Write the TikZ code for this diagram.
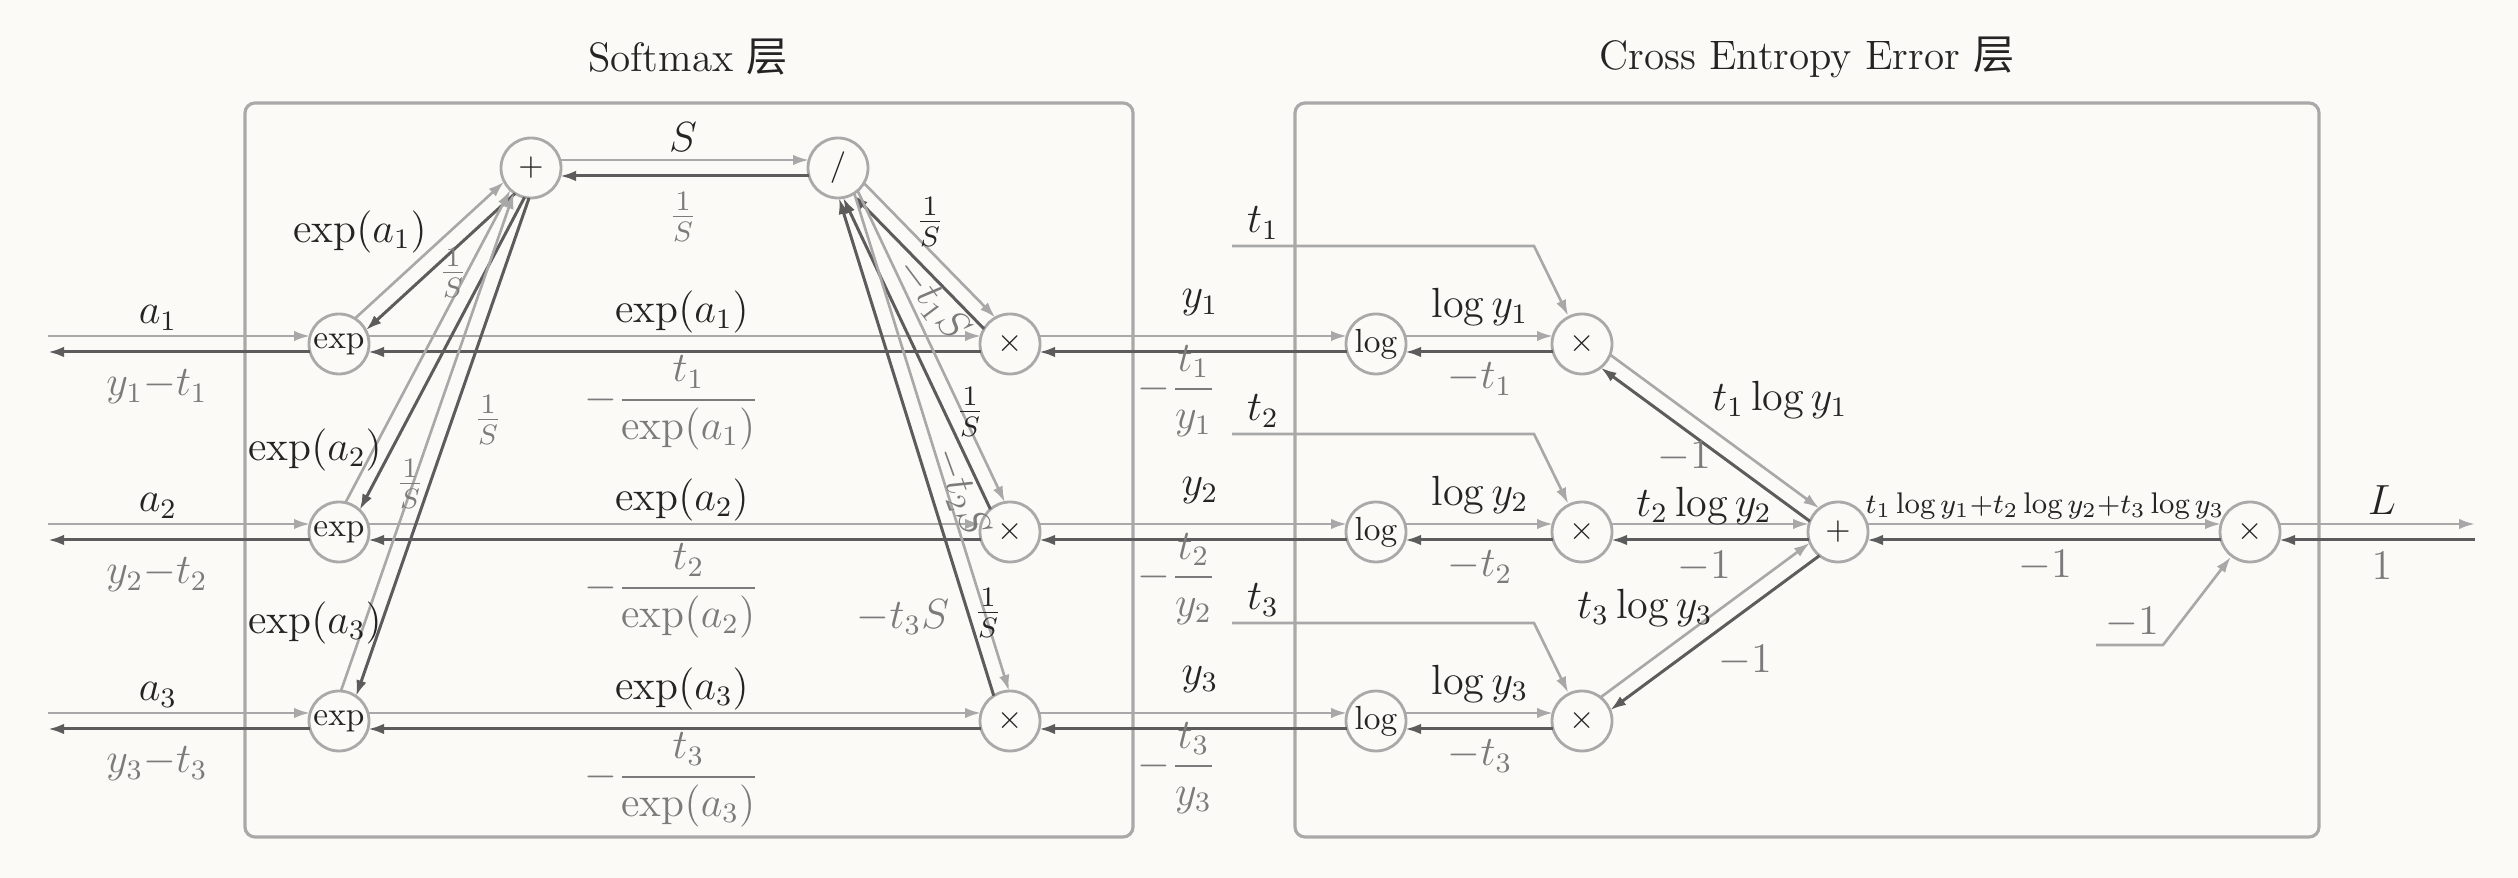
\documentclass[tikz,border=0pt]{standalone}
\usepackage{amsmath}
\usepackage{fontspec}
\newfontfamily\cjkfont{Noto Sans CJK SC}
\usetikzlibrary{arrows.meta,calc,positioning}
\definecolor{paperBg}{HTML}{FBFAF6}
\definecolor{rimGray}{HTML}{A9A9A9}
\definecolor{fwdGray}{HTML}{A8A8A8}
\definecolor{bwdGray}{HTML}{5C5C5C}
\definecolor{labGray}{HTML}{7B7B7B}
\definecolor{inkDark}{HTML}{242424}
\newcommand{\lnGap}{0.8mm}
\newcommand{\nodeRim}{2.9mm}
% forward line #1->#2 on one side, backward line #2->#1 on the other
\newcommand{\pairline}[4]{%
  \draw[fwd,shorten <=#3,shorten >=#4] ($(#1)!\lnGap!90:(#2)$) -- ($(#2)!\lnGap!-90:(#1)$);
  \draw[bwd,shorten <=#4,shorten >=#3] ($(#2)!\lnGap!90:(#1)$) -- ($(#1)!\lnGap!-90:(#2)$);}

\begin{document}
\begin{tikzpicture}[x=0.1mm,y=-0.1mm,
  op/.style={circle,draw=rimGray,line width=0.8pt,minimum size=6mm,inner sep=0pt,
    text=inkDark,font=\fontsize{9.5}{11}\selectfont},
  fwd/.style={draw=fwdGray,line width=0.75pt,-{Latex[length=1.6mm,width=1.05mm]}},
  bwd/.style={draw=bwdGray,line width=0.85pt,-{Latex[length=1.6mm,width=1.05mm]}},
  flab/.style={text=inkDark,font=\fontsize{12}{14}\selectfont,inner sep=0pt},
  blab/.style={text=labGray,font=\fontsize{12}{14}\selectfont,inner sep=0pt},
  layerbox/.style={draw=rimGray,line width=0.9pt,rounded corners=1mm},
  title/.style={text=inkDark,font=\fontsize{11.7}{14}\selectfont}]
  \fill[paperBg] (0,0) rectangle (2518,878);
  \useasboundingbox (0,0) rectangle (2518,878);

  % layers
  \draw[layerbox] (245,103) rectangle (1133,837);
  \draw[layerbox] (1295,103) rectangle (2319,837);
  \node[title] (tsm) at (688,57) {Softmax {\cjkfont 层}};
  \node[title] (tce) at (1807,57) {Cross Entropy Error {\cjkfont 层}};

  % operation nodes
  \node[op] (plusS) at (531,168) {$+$};
  \node[op] (divS) at (838,168) {$/$};
  \node[op] (plusC) at (1838,532) {$+$};
  \node[op] (mL) at (2250,532) {$\times$};
  \coordinate (out) at (2475,532);
  \coordinate (ma) at (2096,645);
  \coordinate (mb) at (2163,645);
  \foreach \i/\y in {1/344,2/532,3/721}{
    \node[op] (e\i) at (339,\y) {exp};
    \node[op] (ms\i) at (1010,\y) {$\times$};
    \node[op] (lg\i) at (1376,\y) {log};
    \node[op] (mc\i) at (1582,\y) {$\times$};
    \coordinate (in\i) at (48,\y);
    \coordinate (ta\i) at (1232,\y-98);
    \coordinate (tb\i) at (1534,\y-98);
  }

  % connectors
  \foreach \i in {1,2,3}{
    \pairline{in\i}{e\i}{0pt}{\nodeRim}
    \pairline{e\i}{plusS}{\nodeRim}{\nodeRim}
    \pairline{e\i}{ms\i}{\nodeRim}{\nodeRim}
    \pairline{divS}{ms\i}{\nodeRim}{\nodeRim}
    \pairline{ms\i}{lg\i}{\nodeRim}{\nodeRim}
    \pairline{lg\i}{mc\i}{\nodeRim}{\nodeRim}
    \pairline{mc\i}{plusC}{\nodeRim}{\nodeRim}
    \draw[fwd] (ta\i) -- (tb\i) -- (mc\i);
  }
  \pairline{plusS}{divS}{\nodeRim}{\nodeRim}
  \pairline{plusC}{mL}{\nodeRim}{\nodeRim}
  \pairline{mL}{out}{\nodeRim}{0pt}
  \draw[fwd] (ma) -- (mb) -- (mL);

  % row labels
  \foreach \i/\y in {1/344,2/532,3/721}{
    \node[flab] (la\i) at (158,\y-26) {$a_\i$};
    \node[blab] (ga\i) at (157,\y+43) {$y_\i{-}t_\i$};
    \node[flab] (lx\i) at (682,\y-32) {$\exp(a_\i)$};
    \node[blab] (gx\i) at (672,\y+59) {$-\dfrac{t_\i}{\exp(a_\i)}$};
    \node[flab] (ly\i) at (1200,\y-41) {$y_\i$};
    \node[blab] (gy\i) at (1177,\y+47) {$-\dfrac{t_\i}{y_\i}$};
    \node[flab] (lt\i) at (1263,\y-121) {$t_\i$};
    \node[flab] (ll\i) at (1480,\y-37) {$\log y_\i$};
    \node[blab] (gl\i) at (1480,\y+35) {$-t_\i$};
  }

  % softmax labels
  \node[flab] (lea1) at (360,232) {$\exp(a_1)$};
  \node[flab] (lea2) at (315,450) {$\exp(a_2)$};
  \node[flab] (lea3) at (315,623) {$\exp(a_3)$};
  \node[blab] (gs1) at (453,273) {$\frac{1}{S}$};
  \node[blab] (gs2) at (410,484) {$\frac{1}{S}$};
  \node[blab] (gs3) at (488,420) {$\frac{1}{S}$};
  \node[flab] (lS) at (683,137) {$S$};
  \node[blab] (gS) at (683,217) {$\frac{1}{S}$};
  \node[flab] (ld1) at (930,222) {$\frac{1}{S}$};
  \node[flab] (ld2) at (970,412) {$\frac{1}{S}$};
  \node[flab] (ld3) at (988,613) {$\frac{1}{S}$};
  \node[blab,rotate=-53] (gd1) at (932,300) {$-t_1S$};
  \node[blab,rotate=-70] (gd2) at (961,492) {$-t_2S$};
  \node[blab] (gd3) at (903,617) {$-t_3S$};

  % cross entropy labels
  \node[flab] (lp1) at (1780,400) {$t_1\log y_1$};
  \node[blab] (gp1) at (1684,457) {$-1$};
  \node[flab] (lp2) at (1704,506) {$t_2\log y_2$};
  \node[blab] (gp2) at (1704,567) {$-1$};
  \node[flab] (lp3) at (1645,608) {$t_3\log y_3$};
  \node[blab] (gp3) at (1745,661) {$-1$};
  \node[flab,font=\fontsize{8.5}{10}\selectfont] (lsum) at (2045,506)
    {$t_1\log y_1{+}t_2\log y_2{+}t_3\log y_3$};
  \node[blab] (gsum) at (2045,566) {$-1$};
  \node[flab] (lL) at (2382,500) {$L$};
  \node[blab] (gL) at (2382,566) {$1$};
  \node[blab] (gm) at (2132,623) {$-1$};
\end{tikzpicture}
\end{document}
